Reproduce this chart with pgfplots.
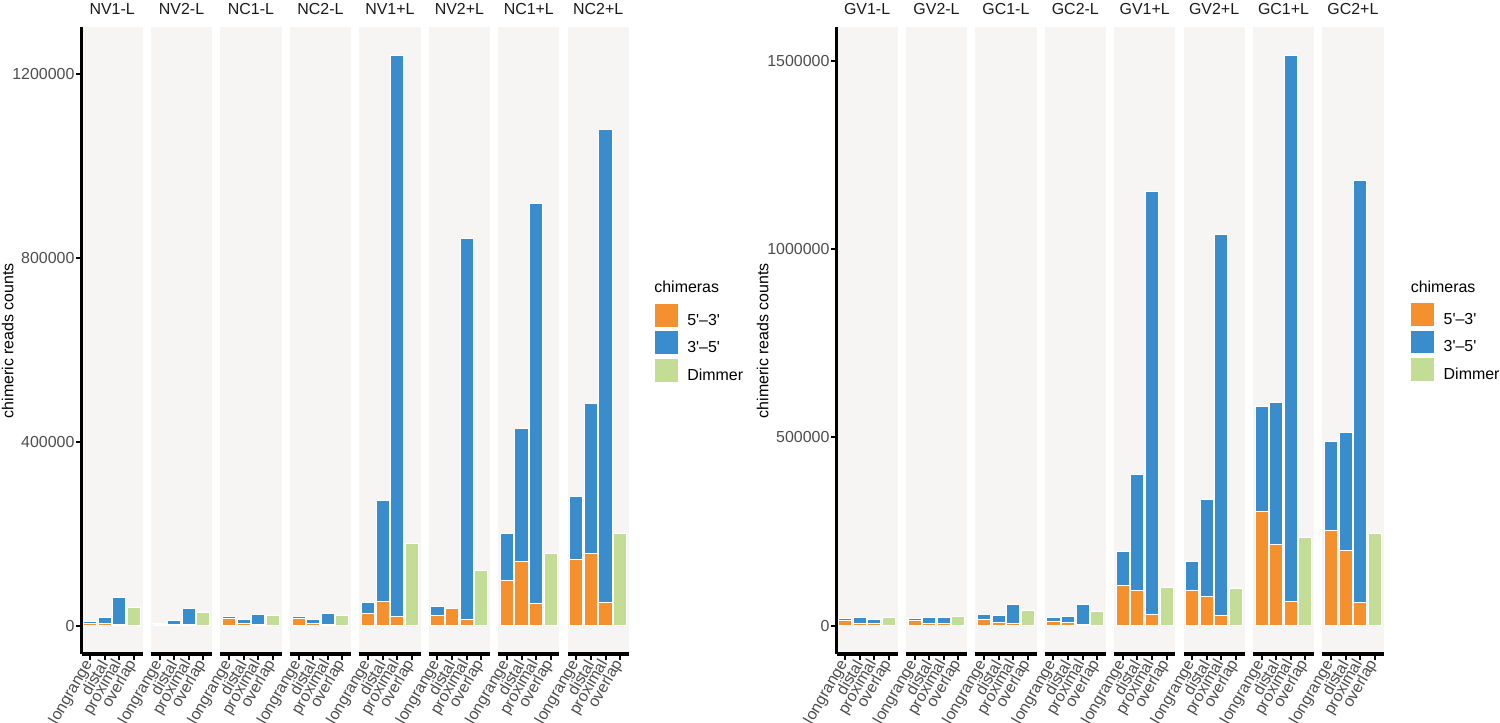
\documentclass[border=0pt]{standalone}
\usepackage{fontspec}
\setmainfont{Liberation Sans}
\newfontfamily\lsplain{Liberation Sans}
\usepackage{pgfplots}
\pgfplotsset{compat=1.18}
\definecolor{cor}{HTML}{F5902F}
\definecolor{cbl}{HTML}{3A8DCC}
\definecolor{cgr}{HTML}{C3DC96}
\definecolor{pbg}{HTML}{F6F5F4}
\definecolor{tickgray}{HTML}{4D4D4D}
\definecolor{titlegray}{HTML}{1A1A1A}
\newcommand\fs{\fontsize{8}{9.6}\selectfont}
\pgfplotsset{
  facet/.style={
    scale only axis, width=30.6bp, height=313.25bp, anchor=south west,
    xmin=0.4, xmax=4.6,
    axis background/.style={fill=pbg},
    axis x line*=bottom, axis y line*=left, separate axis lines,
    x axis line style={line width=1.6bp,-},
    y axis line style={line width=1.6bp,-},
    xtick={1,2,3,4}, xticklabels={longrange,distal,proximal,overlap},
    tick align=outside, major tick length=2.75bp,
    tick style={black, line width=1bp},
    ytick=\empty,
    xticklabel style={rotate=60, anchor=east, font=\fs, text=tickgray, inner sep=1pt},
    yticklabel style={font=\fs, text=tickgray, inner sep=0.6bp,
      /pgf/number format/fixed, /pgf/number format/1000 sep={}},
    /pgf/number format/assume math mode=true,
    scaled y ticks=false,
    every axis title/.style={at={(0.5,1)}, anchor=base, yshift=6.4bp, font=\fs, text=titlegray, inner sep=0pt},
    every axis y label/.style={at={(axis description cs:-1.208,0.5)}, rotate=90, anchor=center, font=\fs, text=black},
    legend image code/.code={\path[##1, draw=white, line width=0.5bp] (0bp,-3bp) rectangle (12bp,8.8bp);},
    legend style={draw=none, fill=none, inner sep=0pt, outer sep=0pt,
      row sep=1.2bp, column sep=4.15bp, font=\fs, nodes={inner sep=0pt}, anchor=north west},
    legend cell align=left,
  },
  noy/.style={y axis line style={draw=none}},
  leftp/.style={ymin=-61950, ymax=1300950},
  rightp/.style={ymin=-75650, ymax=1588650},
  barb/.style={ybar, bar width=0.9, bar shift=0pt, draw=white, line width=0.5bp},
}
% #1 x position, #2 title, #3 orange, #4 total (blue top), #5 dimmer, #6 options
\newcommand\facet[6]{%
\begin{axis}[facet, at={(#1,34.5bp)}, title={#2}, #6]
\addplot[barb, fill=cbl] coordinates {#4};
\addplot[barb, fill=cor] coordinates {#3};
\addplot[barb, fill=cgr] coordinates {(4,#5)};
\end{axis}}
\begin{document}
\begin{tikzpicture}
\fill[white] (0,0) rectangle (750bp,361.5bp);
\useasboundingbox (0,0) rectangle (750bp,361.5bp);
% ---------- left panel ----------
\facet{40.75bp}{NV1-L}{(1,4000)(2,4000)(3,3000)}{(1,8000)(2,17000)(3,60000)}{39000}
  {leftp, ytick={0,400000,800000,1200000}, ylabel={chimeric reads counts}}
\facet{75.475bp}{NV2-L}{(1,3000)(2,3000)(3,3000)}{(1,5000)(2,11000)(3,37000)}{28000}{leftp,noy}
\facet{110.2bp}{NC1-L}{(1,16000)(2,4000)(3,2000)}{(1,20000)(2,13000)(3,25000)}{21000}{leftp,noy}
\facet{144.925bp}{NC2-L}{(1,16000)(2,4000)(3,2000)}{(1,20000)(2,13000)(3,27000)}{22000}{leftp,noy}
\facet{179.65bp}{NV1+L}{(1,26000)(2,52000)(3,19000)}{(1,51000)(2,271000)(3,1239000)}{178000}{leftp,noy}
\facet{214.375bp}{NV2+L}{(1,22000)(2,38000)(3,14000)}{(1,41000)(2,38000)(3,843000)}{120000}{leftp,noy}
\facet{249.1bp}{NC1+L}{(1,99000)(2,140000)(3,48000)}{(1,201000)(2,428000)(3,918000)}{157000}{leftp,noy}
\begin{axis}[facet, at={(283.825bp,34.5bp)}, title={NC2+L}, leftp, noy,
  legend style={at={(axis description cs:1.411,0.5604)}}]
\addplot[barb, fill=cbl, forget plot] coordinates {(1,280000)(2,484000)(3,1078000)};
\addplot[barb, fill=cor, forget plot] coordinates {(1,143000)(2,156000)(3,50000)};
\addplot[barb, fill=cgr, forget plot] coordinates {(4,200000)};
\addlegendimage{fill=cor}\addlegendentry{\lsplain 5'–3'}
\addlegendimage{fill=cbl}\addlegendentry{\lsplain 3'–5'}
\addlegendimage{fill=cgr}\addlegendentry{Dimmer}
\end{axis}
\node[anchor=base west, font=\fs, inner sep=0pt] at (327bp,215.3bp) {chimeras};
% ---------- right panel ----------
\facet{418.25bp}{GV1-L}{(1,13000)(2,6000)(3,5000)}{(1,18000)(2,21000)(3,17000)}{21000}
  {rightp, ytick={0,500000,1000000,1500000}, ylabel={chimeric reads counts}}
\facet{452.95bp}{GV2-L}{(1,13000)(2,6000)(3,5000)}{(1,19500)(2,21000)(3,21000)}{23000}{rightp,noy}
\facet{487.65bp}{GC1-L}{(1,16000)(2,8500)(3,6000)}{(1,29000)(2,26000)(3,57000)}{39000}{rightp,noy}
\facet{522.35bp}{GC2-L}{(1,12000)(2,7000)(3,4000)}{(1,22000)(2,23000)(3,55000)}{38000}{rightp,noy}
\facet{557.05bp}{GV1+L}{(1,106000)(2,92000)(3,28000)}{(1,197000)(2,400000)(3,1153000)}{101000}{rightp,noy}
\facet{591.75bp}{GV2+L}{(1,93000)(2,77000)(3,26000)}{(1,171000)(2,335000)(3,1039000)}{98000}{rightp,noy}
\facet{626.45bp}{GC1+L}{(1,302000)(2,214000)(3,64000)}{(1,583000)(2,592000)(3,1513000)}{233000}{rightp,noy}
\begin{axis}[facet, at={(661.15bp,34.5bp)}, title={GC2+L}, rightp, noy,
  legend style={at={(axis description cs:1.4395,0.5619)}}]
\addplot[barb, fill=cbl, forget plot] coordinates {(1,490000)(2,514000)(3,1182000)};
\addplot[barb, fill=cor, forget plot] coordinates {(1,253000)(2,198000)(3,61000)};
\addplot[barb, fill=cgr, forget plot] coordinates {(4,244000)};
\addlegendimage{fill=cor}\addlegendentry{\lsplain 5'–3'}
\addlegendimage{fill=cbl}\addlegendentry{\lsplain 3'–5'}
\addlegendimage{fill=cgr}\addlegendentry{Dimmer}
\end{axis}
\node[anchor=base west, font=\fs, inner sep=0pt] at (705.2bp,215.3bp) {chimeras};
\end{tikzpicture}
\end{document}
